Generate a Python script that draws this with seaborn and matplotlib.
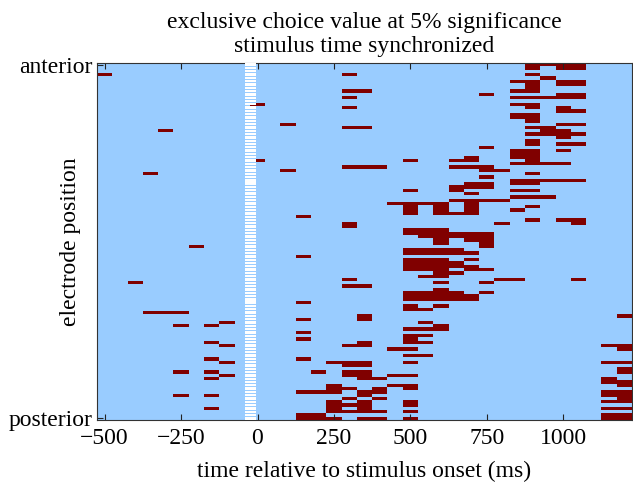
import numpy as np
import pandas as pd
import matplotlib
matplotlib.use("Agg")
import matplotlib.pyplot as plt
import seaborn as sns
from matplotlib.colors import ListedColormap

# ---------------- data ----------------
n_electrodes = 108
time_bins_ms = [-500, -450, -400, -350, -300, -250, -200, -150, -100, -50, 0, 50,
                100, 150, 200, 250, 300, 350, 400, 450, 500, 550, 600, 650, 700,
                750, 800, 850, 900, 950, 1000, 1050, 1100, 1150, 1200]
bin_width_ms = 50
xtick_values = [-500, -250, 0, 250, 500, 750, 1000]
ytick_labels = ["anterior", "posterior"]
masked_window_ms = (-40, -5)

# significant spans: (electrode row from anterior, first bin ms, last bin ms)
significant_spans = [
    (0, 900, 1050), (1, 900, 900), (1, 1000, 1050),
    (3, -500, -500), (3, 300, 300), (3, 900, 900), (4, 950, 950),
    (5, 850, 900), (5, 1000, 1050), (6, 900, 900), (6, 1000, 1050), (7, 900, 900),
    (8, 300, 350), (8, 850, 900), (9, 750, 750), (9, 1000, 1050),
    (10, 300, 300), (10, 850, 1050), (12, 0, 0), (12, 850, 900),
    (13, 300, 300), (13, 900, 900), (13, 1000, 1000), (14, 1000, 1050),
    (15, 850, 900), (16, 850, 900), (17, 900, 900),
    (18, 100, 100), (18, 1000, 1050), (19, 300, 350), (19, 900, 950),
    (20, -300, -300), (20, 950, 1000), (21, 900, 1050), (22, 1000, 1000),
    (23, 900, 900), (24, 900, 900), (24, 1000, 1050), (25, 750, 750),
    (26, 850, 900), (26, 1000, 1000), (27, 850, 900),
    (28, 700, 700), (28, 850, 900),
    (29, 0, 0), (29, 500, 500), (29, 650, 700), (29, 900, 900),
    (30, 850, 1000), (31, 300, 400), (31, 650, 750),
    (32, 100, 100), (32, 750, 800), (33, -350, -350), (33, 900, 900),
    (34, 750, 750), (35, 850, 1050), (36, 700, 750), (36, 850, 900),
    (37, 650, 750), (38, 500, 500), (38, 650, 650), (38, 850, 900),
    (39, 700, 700), (40, 850, 950), (41, 650, 800),
    (42, 450, 600), (42, 700, 700),
    (43, 500, 500), (43, 600, 600), (43, 700, 700), (43, 900, 900),
    (44, 500, 500), (44, 600, 600), (44, 700, 700), (44, 850, 850),
    (45, 500, 500), (45, 600, 700), (46, 150, 150),
    (47, 900, 900), (47, 1000, 1050),
    (48, 300, 300), (48, 800, 800), (48, 1050, 1050), (49, 300, 300),
    (50, 500, 600), (51, 500, 750), (52, 550, 750),
    (53, 600, 600), (53, 700, 750), (54, 600, 600), (54, 750, 750),
    (55, -200, -200), (55, 750, 750),
    (56, 500, 650), (57, 500, 700), (58, 150, 150),
    (59, 500, 600), (59, 700, 700), (60, 500, 650), (61, 500, 700),
    (62, 500, 600), (62, 700, 750), (63, 600, 650), (64, 550, 600),
    (65, 300, 300), (65, 800, 850), (65, 1050, 1050),
    (66, -400, -400), (66, 600, 600), (66, 750, 750),
    (67, 300, 350), (68, 600, 600), (69, 500, 650), (69, 750, 750),
    (70, 500, 700), (71, 500, 700), (72, 150, 150),
    (73, 500, 500), (73, 600, 600), (74, 500, 550),
    (75, -350, -250), (76, 350, 350), (76, 1200, 1200),
    (77, 150, 150), (77, 350, 350), (78, -100, -100), (78, 550, 550),
    (79, -250, -250), (79, -150, -150), (79, 600, 600),
    (80, 500, 600), (81, 150, 150), (82, 500, 550),
    (83, 150, 150), (83, 500, 500),
    (84, -150, -150), (84, 350, 350), (84, 500, 550),
    (85, -100, -100), (85, 300, 350), (85, 1150, 1200),
    (86, 450, 500), (86, 1200, 1200), (88, 500, 550),
    (89, -150, -150), (89, 150, 150),
    (90, -100, -100), (90, 250, 350), (90, 500, 500), (90, 1150, 1200),
    (91, 300, 350), (92, 1200, 1200),
    (93, -250, -250), (93, -150, -150), (93, 200, 200), (93, 300, 350), (93, 1200, 1200),
    (94, -100, -100), (94, 300, 350), (94, 450, 500),
    (95, -150, -150), (95, 350, 400), (95, 1150, 1150), (96, 1150, 1200),
    (97, 250, 250), (97, 450, 500), (97, 1200, 1200),
    (98, 250, 300), (98, 400, 400), (98, 500, 500),
    (99, 150, 250), (99, 350, 400), (99, 1150, 1200),
    (100, -250, -250), (100, -150, -150), (100, 350, 350), (100, 1150, 1200),
    (101, 300, 300), (101, 400, 400), (101, 1200, 1200),
    (102, 250, 250), (102, 350, 350), (102, 500, 500), (102, 1150, 1200),
    (103, 250, 350), (103, 500, 500),
    (104, -150, -150), (104, 250, 250), (104, 350, 350), (104, 1150, 1200),
    (105, 250, 400), (105, 500, 500), (106, 150, 200), (106, 1150, 1200),
    (107, 150, 250), (107, 350, 400), (107, 500, 500), (107, 1150, 1200),
]

# ---------------- build matrix ----------------
bins = np.array(time_bins_ms)
sig = np.zeros((n_electrodes, len(bins)))
for r, t0, t1 in significant_spans:
    sig[r, (bins >= t0) & (bins <= t1)] = 1
df = pd.DataFrame(sig, index=range(n_electrodes), columns=time_bins_ms)

BLUE = "#99ccff"
RED = "#800000"

W, H = 633, 492
fig = plt.figure(figsize=(W / 100, H / 100), dpi=100)
ax_w = (632 - 97) / W
ax = fig.add_axes([97 / W, 1 - 420 / H, ax_w, (420 - 63) / H])

sns.heatmap(df, cmap=ListedColormap([BLUE, RED]), vmin=0, vmax=1, cbar=False,
            ax=ax, xticklabels=False, yticklabels=False)

first_edge = bins[0] - bin_width_ms / 2


def to_x(t):
    return (np.asarray(t, dtype=float) - first_edge) / bin_width_ms


# masked pre-stimulus window drawn as white dashes, one per electrode row
rows = np.arange(n_electrodes) + 0.5
g0, g1 = to_x(masked_window_ms[0]), to_x(masked_window_ms[1])
ax.barh(rows, width=g1 - g0, left=g0, height=0.7, color="white",
        linewidth=0, zorder=3)

serif = "Liberation Serif"
fs = 17
ax.set_xticks(to_x(xtick_values))
ax.set_xticklabels([f"{v}".replace("-", "\u2212") for v in xtick_values],
                   fontsize=fs, family=serif)
ax.set_yticks([0.5, n_electrodes - 0.5])
ax.set_yticklabels(ytick_labels, fontsize=fs, family=serif, rotation=0)
ax.tick_params(axis="x", direction="in", length=4, width=0.8, top=True,
               bottom=True, pad=6, color="#222222")
ax.tick_params(axis="y", direction="in", length=4, width=0.8, left=True,
               pad=3, color="#222222")
ax.set_xlim(0, len(bins))
ax.set_ylim(n_electrodes, 0)

for s in ax.spines.values():
    s.set_visible(True)
    s.set_linewidth(0.8)
    s.set_color("#333333")

ax.set_xlabel("time relative to stimulus onset (ms)", fontsize=fs,
              family=serif, labelpad=8)
ax.set_ylabel("electrode position", fontsize=fs, family=serif)
ax.yaxis.set_label_coords(-16 / (ax_w * W), 0.5)
ax.set_title("exclusive choice value at 5% significance\nstimulus time synchronized",
             fontsize=fs, family=serif, pad=8, linespacing=1.15)

fig.savefig("out.png", dpi=100)
